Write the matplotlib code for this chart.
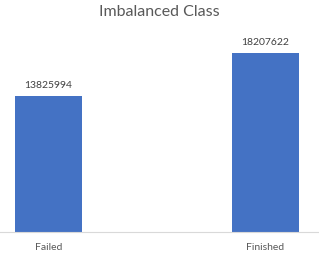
import matplotlib.pyplot as plt

categories = ['Failed', 'Finished']
counts = [13825994, 18207622]

plt.rcParams['font.family'] = ['Lato', 'DejaVu Sans']

fig = plt.figure(figsize=(3.19, 2.54), dpi=100)
# axes box in pixel terms: baseline at y=232, top at y=35
ax = fig.add_axes([0.0, (254 - 232) / 254, 1.0, (232 - 35) / 254])

x = range(len(categories))
bars = ax.bar(x, counts, width=0.309, color='#4472C4')
for rect, val in zip(bars, counts):
    ax.text(rect.get_x() + rect.get_width() / 2, val + 600000, str(val),
            ha='center', va='bottom', fontsize=7.5, color='#404040')

ax.set_xlim(-0.2235, 1.2465)
ax.set_ylim(0, 20000000)
ax.set_xticks(list(x))
ax.set_xticklabels(categories, fontsize=7.5, color='#595959')
ax.tick_params(axis='x', length=0, pad=8)
ax.set_yticks([])
for side in ['top', 'right', 'left']:
    ax.spines[side].set_visible(False)
ax.spines['bottom'].set_color('#D9D9D9')
ax.spines['bottom'].set_linewidth(0.8)

fig.text(0.5, 1 - 12 / 254, 'Imbalanced Class', ha='center', va='center',
         fontsize=11.5, color='#595959')

fig.savefig('out.png', dpi=100)
